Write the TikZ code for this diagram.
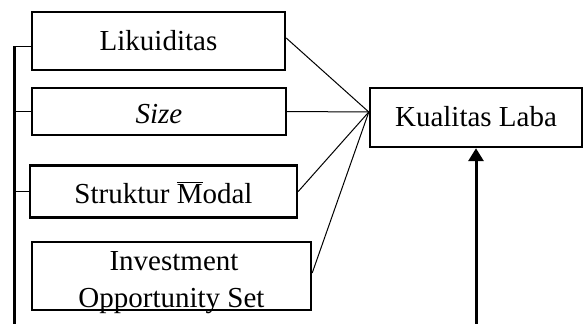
\documentclass[tikz,border=0pt]{standalone}
\usepackage{fontspec}
\setmainfont{Liberation Serif}
\usetikzlibrary{arrows.meta}
\begin{document}
\begin{tikzpicture}[x=1pt,y=-1pt,
  box/.style={draw, line width=2.4pt, rectangle, inner sep=0pt, text depth=0pt,
    font=\fontsize{29}{33}\selectfont},
  txt/.style={anchor=base, inner sep=0pt, font=\fontsize{29}{33}\selectfont},
  thin line/.style={line width=1pt},
  bus/.style={line width=3pt},
  bigarrow/.style={line width=3pt, -{Triangle[length=13pt,width=15pt]}}]
\useasboundingbox (0,0) rectangle (584,324);
% boxes
\node[box, minimum width=253pt, minimum height=58pt, text height=18pt] (liq) at (158.5,41) {Likuiditas};
\node[box, minimum width=254pt, minimum height=47pt, text height=23pt] (sz) at (159,111.5) {\itshape Size};
\node[box, minimum width=267pt, minimum height=52pt, text height=23pt] (sm) at (163.5,191.5) {Struktur $\overline{\mbox{M}}$odal};
\node[box, minimum width=279pt, minimum height=68pt] (ios) at (171.5,276) {};
\node[txt] (ios1) at (174,270) {Investment};
\node[txt] (ios2) at (171.5,307) {Opportunity Set};
\node[box, minimum width=212pt, minimum height=59pt, text height=17pt] (kl) at (476,117.5) {Kualitas Laba};
% connectors to Kualitas Laba
\coordinate (hub) at ([yshift=5.5pt]kl.west);
\draw[thin line] ([yshift=3pt]liq.east) -- (hub);
\draw[thin line] (sz.east) -- (hub);
\draw[thin line] (sm.east) -- (hub);
\draw[thin line] ([yshift=3pt]ios.east) -- (hub);
% left bus
\coordinate (bustop) at (14,46);
\coordinate (busbot) at (14,324);
\draw[bus] (bustop) -- (busbot);
\draw[thin line] (bustop) -- (bustop -| liq.west);
\draw[thin line] (bustop |- sz.west) -- (sz.west);
\draw[thin line] (bustop |- sm.west) -- (sm.west);
% arrow
\coordinate (arrbot) at (476,324);
\draw[bigarrow] (arrbot) -- (kl.south);
\end{tikzpicture}
\end{document}
